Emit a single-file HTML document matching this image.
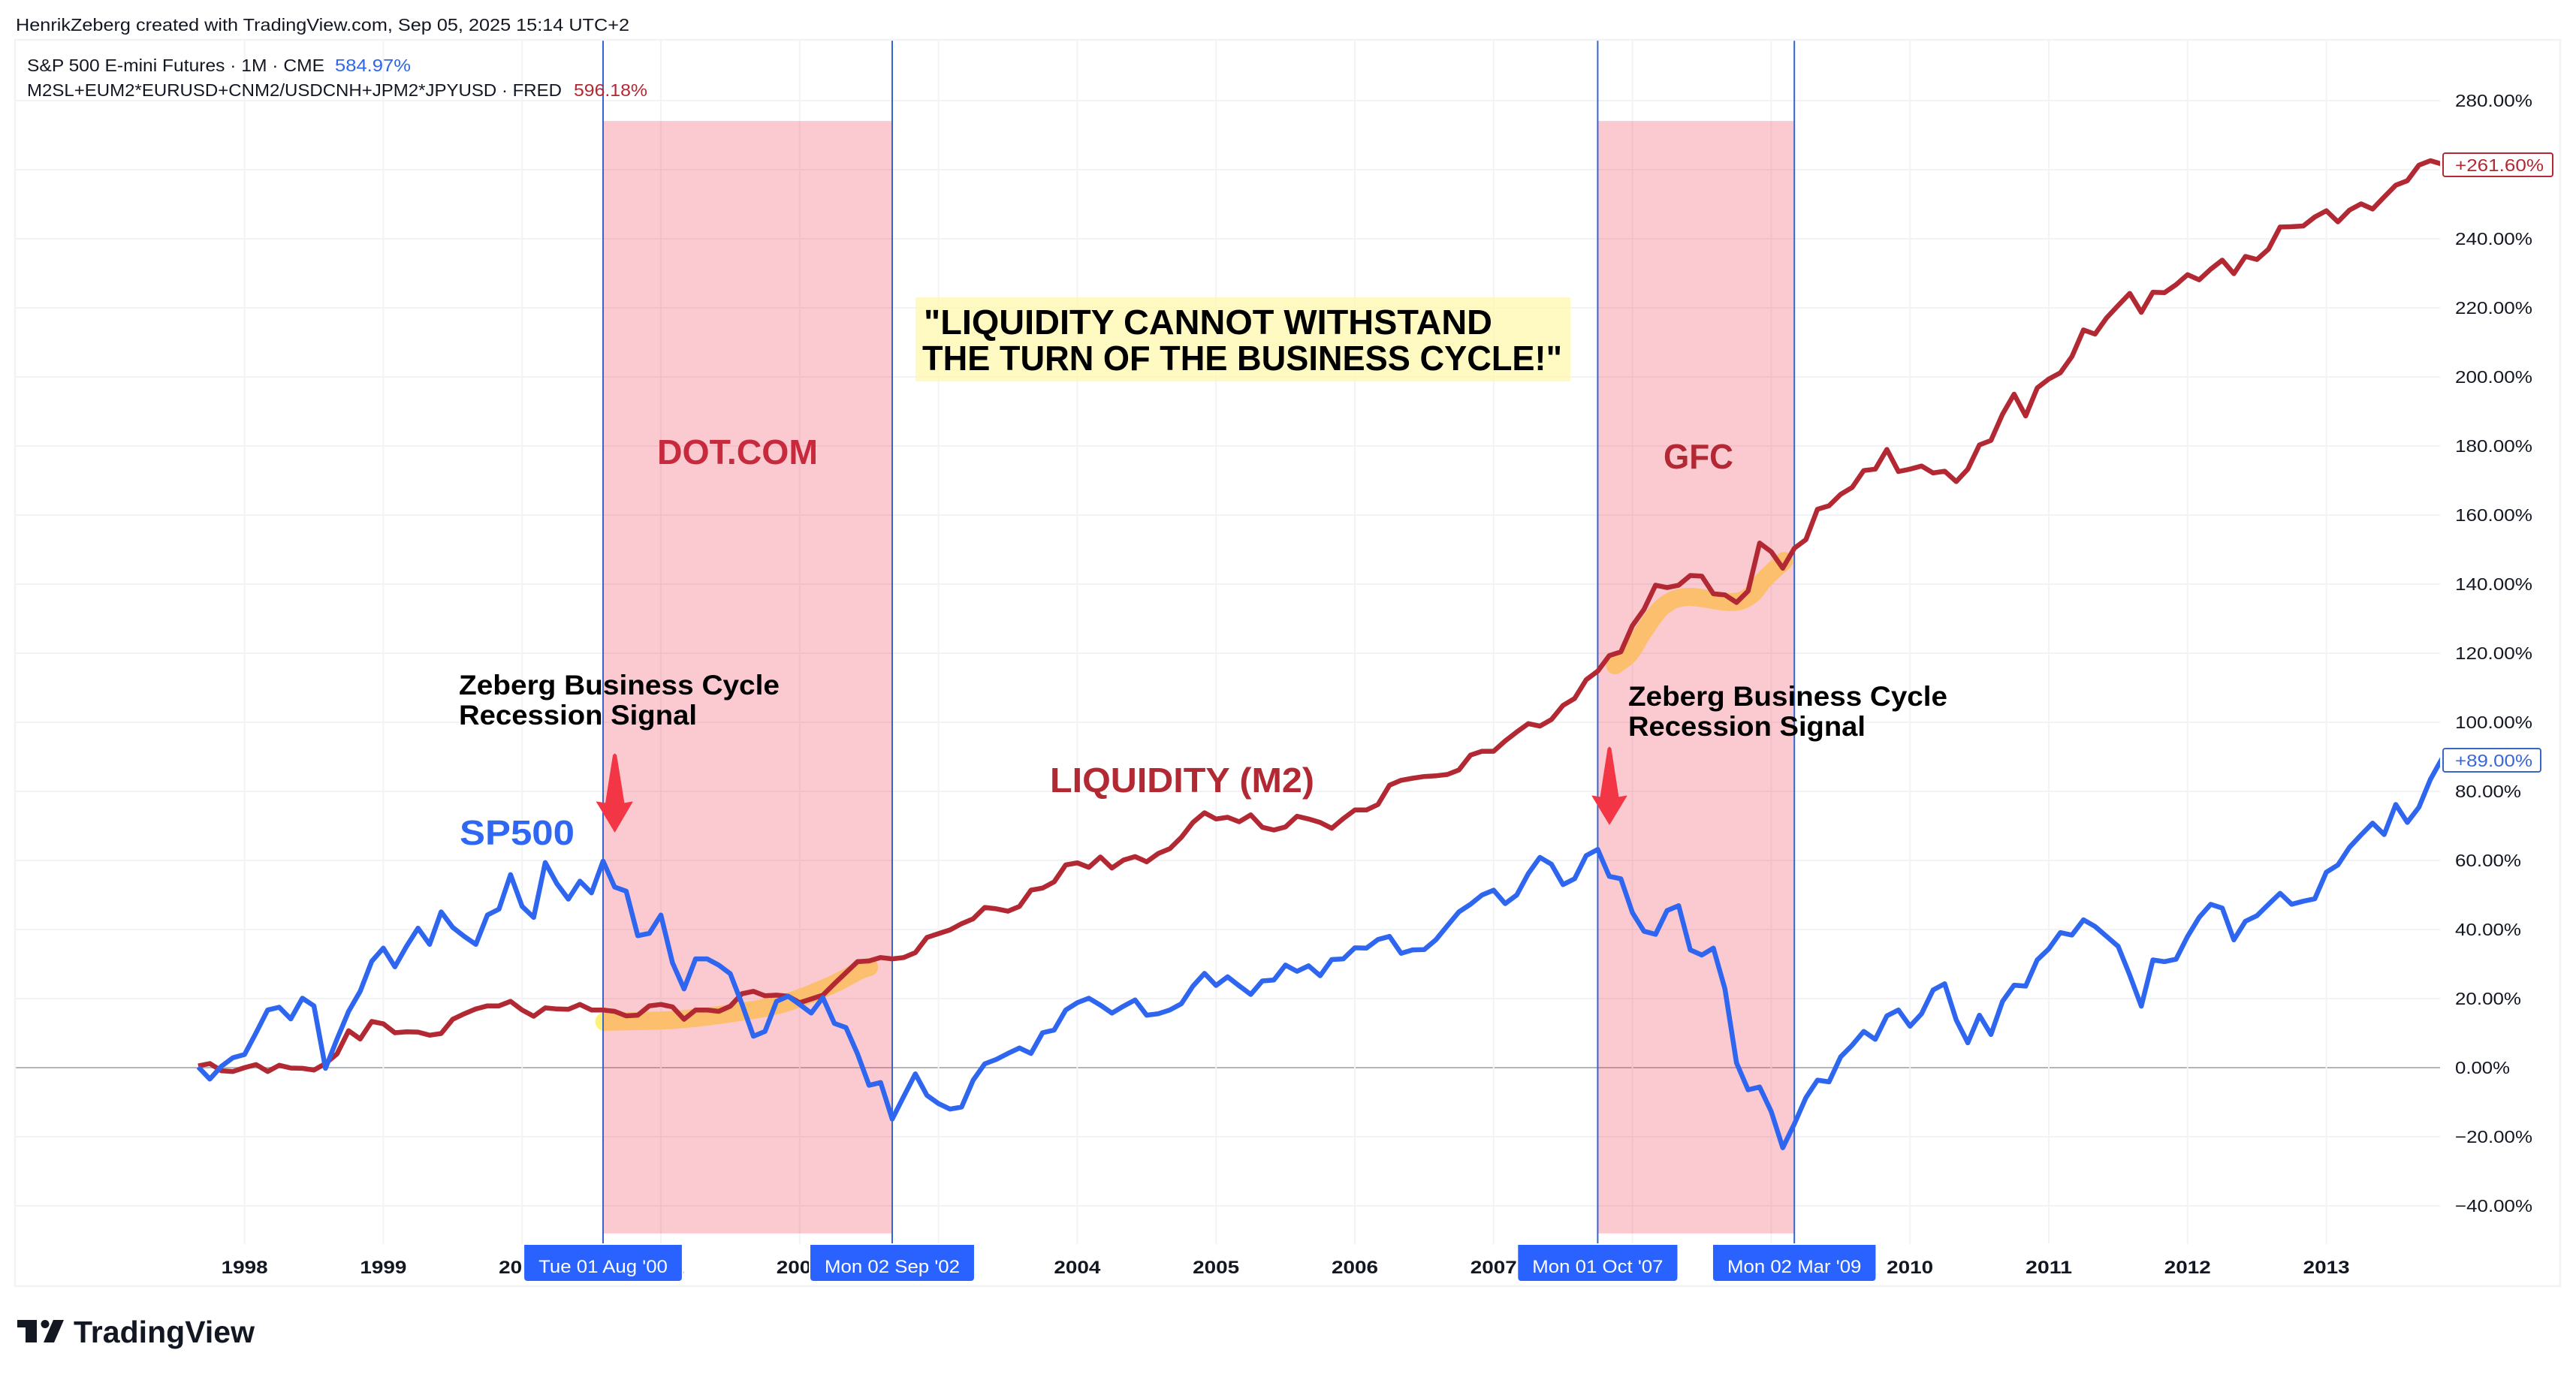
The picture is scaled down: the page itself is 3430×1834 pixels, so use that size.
<!DOCTYPE html>
<html lang="en">
<head>
<meta charset="utf-8">
<title>S&amp;P 500 vs Global Liquidity (M2) 1997-2013</title>
<style>
html,body{margin:0;padding:0;background:#fff;width:3430px;height:1834px;overflow:hidden}
svg{position:absolute;left:0;top:0;display:block}
text{font-family:"Liberation Sans",sans-serif}
</style>
</head>
<body>
<svg id="chart" xmlns="http://www.w3.org/2000/svg" width="3430" height="1834" viewBox="0 0 3430 1834">
  <defs>
    <clipPath id="plot-clip"><rect x="20" y="53" width="3229" height="1604"/></clipPath>
  </defs>
  <rect x="0" y="0" width="3430" height="1834" fill="#ffffff"/>
  <text x="21" y="41" font-size="23" fill="#131722" textLength="817" lengthAdjust="spacingAndGlyphs">HenrikZeberg created with TradingView.com, Sep 05, 2025 15:14 UTC+2</text>
  <g id="grid"></g>
  <g id="brushes" clip-path="url(#plot-clip)"></g>
  <g id="regions"></g>
  <g id="markers"></g>
  <g id="series" clip-path="url(#plot-clip)"></g>
  <rect x="20" y="53" width="3389" height="1660" fill="none" stroke="#f2f3f4" stroke-width="2.5"/>

  <text x="36" y="95" font-size="23" fill="#131722" textLength="396" lengthAdjust="spacingAndGlyphs">S&amp;P 500 E-mini Futures · 1M · CME</text>
  <text x="446" y="95" font-size="23" fill="#2e66e8" textLength="101" lengthAdjust="spacingAndGlyphs">584.97%</text>
  <text x="36" y="128" font-size="23" fill="#131722" textLength="712" lengthAdjust="spacingAndGlyphs">M2SL+EUM2*EURUSD+CNM2/USDCNH+JPM2*JPYUSD · FRED</text>
  <text x="764" y="128" font-size="23" fill="#b22833" textLength="98" lengthAdjust="spacingAndGlyphs">596.18%</text>

  <g id="y-axis"></g>
  <g id="x-axis"></g>
  <g id="date-labels"></g>

  <g>
    <rect x="3253" y="204" width="146" height="31" rx="3" fill="#fff" stroke="#b22833" stroke-width="2"/>
    <text x="3269" y="228" font-size="23" fill="#b22833" textLength="118" lengthAdjust="spacingAndGlyphs">+261.60%</text>
  </g>
  <g>
    <rect x="3253" y="997" width="130" height="31" rx="3" fill="#fff" stroke="#3a66c4" stroke-width="2"/>
    <text x="3269" y="1021" font-size="23" fill="#3a66d8" textLength="103" lengthAdjust="spacingAndGlyphs">+89.00%</text>
  </g>

  <rect x="1219" y="396" width="872" height="112" fill="#fff7ae" fill-opacity="0.75"/>
  <text x="1230" y="445" font-size="46" font-weight="700" fill="#000" textLength="757" lengthAdjust="spacingAndGlyphs">"LIQUIDITY CANNOT WITHSTAND</text>
  <text x="1228" y="493" font-size="46" font-weight="700" fill="#000" textLength="852" lengthAdjust="spacingAndGlyphs">THE TURN OF THE BUSINESS CYCLE!"</text>

  <text x="875" y="618" font-size="46" font-weight="700" fill="#c62a3c" textLength="214" lengthAdjust="spacingAndGlyphs">DOT.COM</text>
  <text x="2215" y="624" font-size="46" font-weight="700" fill="#b22833" textLength="93" lengthAdjust="spacingAndGlyphs">GFC</text>
  <text x="1398" y="1055" font-size="46" font-weight="700" fill="#b22833" textLength="352" lengthAdjust="spacingAndGlyphs">LIQUIDITY (M2)</text>
  <text x="612" y="1125" font-size="46" font-weight="700" fill="#2f66f2" textLength="153" lengthAdjust="spacingAndGlyphs">SP500</text>

  <text x="611" y="925" font-size="37" font-weight="700" fill="#000" textLength="427" lengthAdjust="spacingAndGlyphs">Zeberg Business Cycle</text>
  <text x="611" y="965" font-size="37" font-weight="700" fill="#000" textLength="317" lengthAdjust="spacingAndGlyphs">Recession Signal</text>
  <text x="2168" y="940" font-size="37" font-weight="700" fill="#000" textLength="425" lengthAdjust="spacingAndGlyphs">Zeberg Business Cycle</text>
  <text x="2168" y="980" font-size="37" font-weight="700" fill="#000" textLength="316" lengthAdjust="spacingAndGlyphs">Recession Signal</text>

  <polygon points="816.5,1006 818.6,1004 820.7,1006 831,1070 842,1068 818.6,1108 794.5,1068 806.5,1070" fill="#f23645" stroke="#f23645" stroke-width="1" stroke-linejoin="round"/>
  <polygon points="2141,997 2143,995 2145,997 2155,1062 2166,1060 2143,1098 2120,1060 2131,1062" fill="#f23645" stroke="#f23645" stroke-width="1" stroke-linejoin="round"/>

  <g>
    <path d="M23 1758H49V1788H34V1768H23Z M71 1758H85L72 1788H58Z" fill="#131722"/>
    <circle cx="60" cy="1763.5" r="5.5" fill="#131722"/>
    <text x="98" y="1788" font-size="41" font-weight="700" fill="#131722" textLength="241" lengthAdjust="spacingAndGlyphs">TradingView</text>
  </g>
</svg>
<script>
// Chart data: percentage change, monthly from Sep 1997 (index 0)
const sp500Values = [
0.2,-3.3,0.4,2.9,3.8,10.1,16.7,17.5,14.1,20.1,
17.9,-0.2,8.3,16.3,22.1,30.8,34.6,29.2,35.1,40.4,
35.7,45.1,40.6,38,35.7,44.2,45.9,55.9,46.7,43.5,
59.4,53.3,48.8,54,50.6,59.8,52.3,51.1,38.2,38.9,
44.2,30.4,22.8,31.5,31.5,29.7,27.2,18.5,9.1,10.5,
19.2,20.7,18.3,15.8,20.3,12.8,11.6,4,-5.1,-4.3,
-14.9,-8.3,-1.8,-8,-10.4,-12,-11.4,-3.6,1.1,2.4,
4.1,5.7,4.1,10.1,10.9,16.7,18.8,20.1,18.1,15.8,
17.8,19.6,15.2,15.6,16.7,18.5,23.6,27.3,23.8,26.3,
23.7,21.2,25.1,25.4,29.7,27.9,29.5,26.6,31.3,31.5,
34.7,34.6,37.1,38,33.1,34.1,34.2,37,41.1,45.1,
47.3,50,51.4,47.5,50,56.2,60.9,58.9,53,54.7,
61.4,63.2,55.4,54.7,44.9,39.5,38.6,45.5,46.9,34.1,
32.6,34.6,22.8,1.4,-6.4,-5.6,-12.7,-23.2,-16.3,-8.7,
-3.6,-4.1,3.1,6.5,10.5,8.2,15,16.7,12,15.6,
22.5,24.3,13.8,7.2,15.2,9.6,19.2,23.9,23.6,31.2,
34.4,39.1,38.4,42.8,40.9,38,35.1,26.8,17.8,31.2,
30.7,31.4,38,43.5,47.3,46.2,37,42.4,44,47.3,
50.5,47.3,48.2,48.9,56.6,58.7,63.8,67.4,70.8,67.5,
76.2,71,75.4,83.5,89.5];
const m2Values = [
0.5,1.2,-0.9,-1.1,0,0.9,-1.1,0.7,-0.1,-0.2,
-0.7,1.2,4,10.7,8.3,13.4,12.7,10.1,10.4,10.3,
9.4,9.9,14,15.6,17,17.9,17.9,19.2,16.7,14.9,
17.3,17,16.9,18.3,16.7,16.7,16.3,15,15.2,17.9,
18.3,17.6,14,16.7,16.7,16.3,17.8,21.4,22.1,20.8,
21,20.7,18.8,19.9,21,24.3,27.5,30.7,30.9,31.9,
31.5,31.9,33.3,37.7,38.8,39.9,41.7,43.1,46.4,46,
45.3,46.7,51.4,52,53.8,58.7,59.3,58,61,57.8,
60.1,61.1,59.6,62,63.4,66.7,71,73.8,72,72.5,
71.2,73.2,69.6,68.8,69.7,72.8,72,71,69.3,72.1,
74.6,74.6,76.2,81.8,83.2,83.8,84.3,84.5,84.9,86.2,
90.5,91.6,91.6,94.6,97.2,99.6,98.9,100.8,104.9,106.9,
112.3,114.8,119.3,120.4,128,132.7,139.7,139,139.7,142.5,
142.3,137.2,136.9,134.7,138,151.9,149.4,144.6,150.4,152.9,
161.7,162.7,166,168,172.9,173.3,179,172.6,173.3,174.2,
172.2,172.7,169.7,173.3,180.3,181.6,189.2,195,188.7,196.8,
199.4,201.2,205.9,213.6,212.4,217.1,220.7,224.2,218.7,224.5,
224.4,226.7,229.6,228.1,231.2,233.8,229.9,234.9,234,237,
243.4,243.5,243.7,246.3,248.1,244.9,248.3,250.1,248.6,252.1,
255.5,256.8,261.3,262.6,261.6];
const yearLabels = ['1998','1999','2000','2001','2002','2003','2004','2005','2006','2007','2008','2009','2010','2011','2012','2013'];
const yearMonthIndex = [4,16,28,40,52,64,76,88,100,112,124,136,148,160,172,184];
const percentTicks = [280,260,240,220,200,180,160,140,120,100,80,60,40,20,0,-20,-40];
const percentTickLabels = ['280.00%','','240.00%','220.00%','200.00%','180.00%','160.00%','140.00%','120.00%','100.00%','80.00%','60.00%','40.00%','20.00%','0.00%','−20.00%','−40.00%'];
const markerMonthIndex = [35,60,121,138];
const markerDates = ["Tue 01 Aug '00","Mon 02 Sep '02","Mon 01 Oct '07","Mon 02 Mar '09"];
const dotcomBrushMonths = [35.1,38,41.4,46,50.5,54.6,57.1,58];
const dotcomBrushValues = [13.3,13.5,13.9,15.7,18.5,23.7,28,29.1];
const gfcBrushMonths = [122.5,123.8,125,126.7,128.8,132.5,134.2,135.5,137.1];
const gfcBrushValues = [116.5,120,126.5,133.7,136.3,134.8,136.7,141.7,146.7];

// Axis functions
function xScale(monthIndex){ return 264 + 15.4 * monthIndex; }
function yScale(percent){ return 1422 - 4.6 * percent; }

const SVGNS = 'http://www.w3.org/2000/svg';
function make(tag, parent, attrs, text){
  const el = document.createElementNS(SVGNS, tag);
  for (const k in attrs) el.setAttribute(k, attrs[k]);
  if (text !== undefined) el.textContent = text;
  document.getElementById(parent).appendChild(el);
  return el;
}
function smoothPath(months, values){
  const p = months.map((m, i) => [xScale(m), yScale(values[i])]);
  let d = 'M' + p[0][0] + ' ' + p[0][1];
  for (let i = 0; i < p.length - 1; i++){
    const a = p[Math.max(i - 1, 0)], b = p[i], c = p[i + 1], e = p[Math.min(i + 2, p.length - 1)];
    d += ' C' + (b[0] + (c[0] - a[0]) / 6) + ' ' + (b[1] + (c[1] - a[1]) / 6) + ' ' +
         (c[0] - (e[0] - b[0]) / 6) + ' ' + (c[1] - (e[1] - b[1]) / 6) + ' ' + c[0] + ' ' + c[1];
  }
  return d;
}

// Horizontal grid and price-axis labels
percentTicks.forEach((tick, i) => {
  const isZero = tick === 0;
  const line = make('line', 'grid', {x1: 20, x2: 3249, y1: yScale(tick), y2: yScale(tick), stroke: isZero ? '#b2b5ba' : '#f3f3f5', 'stroke-width': 2});
  
  
  const label = percentTickLabels[i];
  if (label){
    const t = make('text', 'y-axis', {x: 3269, y: yScale(tick) + 8, 'font-size': 23, fill: '#131722', textLength: 15 * label.length - 2, lengthAdjust: 'spacingAndGlyphs'}, label);
    
    
  }
});

// Vertical grid and year labels
yearMonthIndex.forEach((m, i) => {
  const line = make('line', 'grid', {x1: xScale(m), x2: xScale(m), y1: 53, y2: 1657, stroke: '#f2f3f5', 'stroke-width': 2});
  
  
  const t = make('text', 'x-axis', {x: xScale(m), y: 1696, 'font-size': 24, 'font-weight': 700, fill: '#131722', 'text-anchor': 'middle', textLength: 62, lengthAdjust: 'spacingAndGlyphs'}, yearLabels[i]);
  
  
});

// Yellow brush strokes (turn orange under the translucent recession bands)
const brushA = make('path', 'brushes', {d: smoothPath(dotcomBrushMonths, dotcomBrushValues), fill: 'none', stroke: '#fff176', 'stroke-width': 24, 'stroke-linecap': 'round', 'stroke-linejoin': 'round'});


const brushB = make('path', 'brushes', {d: smoothPath(gfcBrushMonths, gfcBrushValues), fill: 'none', stroke: '#fff176', 'stroke-width': 24, 'stroke-linecap': 'round', 'stroke-linejoin': 'round'});



// Recession bands between pairs of date markers
for (let i = 0; i < markerMonthIndex.length; i += 2){
  const x0 = xScale(markerMonthIndex[i]), x1 = xScale(markerMonthIndex[i + 1]);
  const band = make('rect', 'regions', {x: x0, y: yScale(274.1), width: x1 - x0, height: yScale(-48) - yScale(274.1), fill: 'rgb(240,60,85)', 'fill-opacity': 0.28});
  
  
}

// Date marker lines and labels
markerMonthIndex.forEach((m, i) => {
  const x = xScale(m);
  const line = make('line', 'markers', {x1: x, x2: x, y1: 53, y2: 1658, stroke: '#3366cc', 'stroke-width': 2});
  
  
  const box = make('path', 'date-labels', {fill: '#2962ff', stroke: '#ffffff', 'stroke-width': 4, 'paint-order': 'stroke'});
  
  
  const t = make('text', 'date-labels', {x: x, y: 1695, 'font-size': 24, fill: '#ffffff', 'text-anchor': 'middle', lengthAdjust: 'spacingAndGlyphs'}, markerDates[i]);
  
  
  // Reference glyphs run a little wider than Liberation Sans at the same height
  const textWidth = t.getComputedTextLength() * 1.075;
  t.setAttribute('textLength', textWidth.toFixed(1));
  const halfWidth = textWidth / 2 + 19;
  box.setAttribute('d', 'M' + (x - halfWidth) + ' 1658H' + (x + halfWidth) + 'V1702a4 4 0 0 1 -4 4H' + (x - halfWidth + 4) + 'a4 4 0 0 1 -4 -4Z');
});

// Series lines
function linePoints(values){
  return values.map((v, i) => xScale(i).toFixed(1) + ',' + yScale(v).toFixed(1)).join(' ');
}
const m2Line = make('polyline', 'series', {points: linePoints(m2Values), fill: 'none', stroke: '#b22833', 'stroke-width': 6.5, 'stroke-linejoin': 'round'});


const spLine = make('polyline', 'series', {points: linePoints(sp500Values), fill: 'none', stroke: '#2e66f0', 'stroke-width': 6.5, 'stroke-linejoin': 'round'});


</script>
</body>
</html>
